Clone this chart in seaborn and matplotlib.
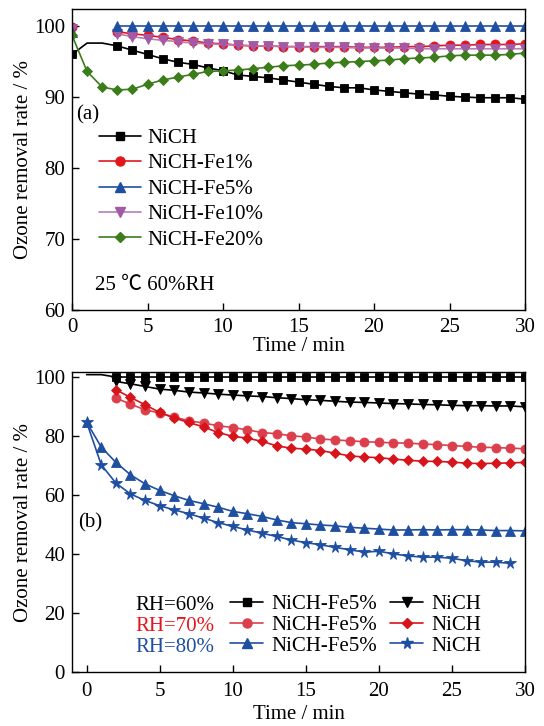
import matplotlib
matplotlib.use('Agg')
import matplotlib.pyplot as plt
import seaborn as sns
from matplotlib.lines import Line2D

# ---------------- data: panel (a) ----------------
t_a_full = list(range(0, 31))
t_a_late = list(range(3, 31))
nich_a = [96.0, 97.6, 97.6, 97.2, 96.6, 96.0, 95.4, 94.9, 94.6, 94.1, 93.7, 93.1, 92.9,
          92.7, 92.4, 92.1, 91.8, 91.5, 91.3, 91.3, 91.0, 90.8, 90.6, 90.4, 90.3, 90.1,
          90.0, 89.9, 89.9, 89.9, 89.7]
fe1_a0 = 99.9
fe1_a = [99.2, 98.9, 98.7, 98.4, 98.1, 97.9, 97.6, 97.5, 97.3, 97.2, 97.2, 97.1, 97.1, 97.1,
         97.1, 97.1, 97.0, 97.0, 97.0, 97.1, 97.1, 97.2, 97.3, 97.3, 97.4, 97.4, 97.4, 97.5]
fe5_a0 = 99.2
fe5_a = [100.0] * 28
fe10_a0 = 99.6
fe10_a = [98.9, 98.5, 98.2, 98.0, 97.8, 97.6, 97.5, 97.4, 97.3, 97.2, 97.2, 97.1, 97.1, 97.0,
          97.0, 97.0, 96.9, 96.9, 96.9, 96.9, 96.8, 96.8, 96.8, 96.8, 96.8, 96.8, 96.8, 96.8]
fe20_a = [98.7, 93.6, 91.4, 91.0, 91.1, 91.8, 92.4, 92.8, 93.2, 93.6, 93.7, 93.8, 94.0, 94.2,
          94.4, 94.5, 94.6, 94.8, 94.9, 95.0, 95.1, 95.2, 95.4, 95.5, 95.6, 95.8, 95.9, 95.9,
          95.9, 96.0, 96.2]
labels_a = ['NiCH', 'NiCH-Fe1%', 'NiCH-Fe5%', 'NiCH-Fe10%', 'NiCH-Fe20%']

# ---------------- data: panel (b) ----------------
t_b_top = [0, 1] + list(range(2, 31))
t_b = list(range(2, 31))
t_b80 = list(range(0, 31))
t_b80_star = list(range(0, 30))
fe5_rh60 = [100.8, 100.8] + [100.0] * 29
nich_rh60 = [98.5, 97.7, 96.8, 95.9, 95.5, 94.9, 94.6, 94.2, 93.9, 93.6, 93.4, 93.0, 92.7,
             92.3, 92.1, 91.8, 91.5, 91.4, 91.2, 91.0, 90.9, 90.7, 90.6, 90.4, 90.3, 90.3,
             90.2, 90.2, 89.9]
fe5_rh70 = [92.9, 90.8, 88.9, 87.8, 86.4, 85.2, 84.4, 83.5, 82.9, 82.1, 81.2, 80.8, 80.1,
            79.7, 79.0, 78.7, 78.4, 78.1, 77.9, 77.7, 77.6, 77.3, 77.1, 76.8, 76.5, 76.2,
            76.1, 75.9, 75.7]
nich_rh70 = [95.7, 93.1, 90.6, 88.0, 86.1, 84.6, 83.1, 81.2, 79.9, 79.3, 78.2, 76.7, 75.9,
             75.6, 75.1, 74.2, 73.3, 72.9, 72.7, 72.2, 71.8, 71.5, 71.4, 71.2, 70.8, 70.7,
             70.8, 70.9, 71.1]
fe5_rh80 = [84.7, 76.3, 71.1, 66.9, 63.8, 61.6, 59.8, 58.2, 57.1, 55.9, 54.5, 53.7, 52.8,
            51.6, 50.7, 50.3, 49.9, 49.6, 49.1, 48.8, 48.5, 48.2, 48.2, 48.3, 48.2, 48.3,
            48.3, 48.2, 48.0, 48.0, 47.9]
nich_rh80 = [84.7, 70.3, 64.1, 60.4, 58.2, 56.4, 55.0, 53.7, 52.2, 50.7, 49.4, 48.2, 47.1,
             46.0, 44.8, 43.9, 43.2, 42.3, 41.5, 40.7, 41.0, 40.1, 39.4, 39.0, 39.0, 38.6,
             37.8, 37.3, 37.3, 36.9]
rh_labels = ['RH=60%', 'RH=70%', 'RH=80%']

# ---------------- style ----------------
sns.set_theme(style='ticks')
plt.rcParams['font.family'] = ['Liberation Serif', 'Noto Sans CJK SC', 'DejaVu Sans']
for k in ['text.color', 'axes.labelcolor', 'xtick.color', 'ytick.color', 'axes.edgecolor']:
    plt.rcParams[k] = 'black'
FS = 15

BLACK = '#000000'
RED = '#E3161E'
BLUE = '#1F4FA0'
PURPLE = '#A35AA6'
GREEN = '#3C7D1B'
PINK = '#DC3F4C'
RED2 = '#D7141A'

W, H = 544, 726
fig = plt.figure(figsize=(W / 100, H / 100), dpi=100)


def rect(l, t, r, b):
    return [l / W, 1 - b / H, (r - l) / W, (b - t) / H]


ax1 = fig.add_axes(rect(72, 9, 525, 310))
ax2 = fig.add_axes(rect(72, 371.7, 525, 672.3))


def draw(ax, x, y, color, marker, ms, mevery=None, lcolor=None):
    sns.lineplot(x=x, y=y, ax=ax, color=lcolor or color, marker=marker, markersize=ms,
                 markeredgecolor=color, markerfacecolor=color, markeredgewidth=0.6,
                 linewidth=1.2, estimator=None, sort=False, markevery=mevery, legend=False)


def proxy(color, marker, ms, lcolor=None):
    return Line2D([], [], color=lcolor or color, marker=marker, markersize=ms,
                  markeredgecolor=color, markerfacecolor=color, linewidth=1.2)


# panel (a)
draw(ax1, t_a_full, nich_a, BLACK, 's', 6, mevery=[0] + list(range(3, 31)))
draw(ax1, t_a_late, fe1_a, RED, 'o', 6.5)
draw(ax1, [0], [fe1_a0], RED, 'o', 6.5)
draw(ax1, t_a_late, fe10_a, PURPLE, 'v', 7, lcolor='#B57EBB')
draw(ax1, [0], [fe10_a0], PURPLE, 'v', 7)
draw(ax1, t_a_late, fe5_a, BLUE, '^', 7)
draw(ax1, [0], [fe5_a0], BLUE, '^', 7)
draw(ax1, t_a_full, fe20_a, GREEN, 'D', 5.5)

ax1.set_xlim(0, 30)
ax1.set_ylim(60, 102.4)
ax1.set_xticks(range(0, 31, 5))
ax1.set_yticks(range(60, 101, 10))

h_a = [proxy(BLACK, 's', 6), proxy(RED, 'o', 6.5), proxy(BLUE, '^', 7),
       proxy(PURPLE, 'v', 7, lcolor='#B57EBB'), proxy(GREEN, 'D', 5.5)]
ax1.legend(h_a, labels_a, loc='upper left', bbox_to_anchor=(0.06, 0.603), frameon=False,
           handlelength=2.0, handletextpad=0.3, labelspacing=0.28, borderpad=0,
           borderaxespad=0, fontsize=FS)
ax1.text(0.009, 0.647, '(a)', transform=ax1.transAxes, fontsize=FS, ha='left', va='center')
ax1.text(0.051, 0.083, '25 ℃ 60%RH', transform=ax1.transAxes, fontsize=FS,
         ha='left', va='center')

# panel (b)
draw(ax2, t_b_top, fe5_rh60, BLACK, 's', 6, mevery=list(range(2, 31)))
draw(ax2, t_b, nich_rh60, BLACK, 'v', 7)
draw(ax2, t_b, fe5_rh70, PINK, 'o', 6.5)
draw(ax2, t_b, nich_rh70, RED2, 'D', 5.5)
draw(ax2, t_b80, fe5_rh80, BLUE, '^', 7)
draw(ax2, t_b80_star, nich_rh80, BLUE, '*', 8.5)

ax2.set_xlim(-1, 30)
ax2.set_ylim(0, 101.8)
ax2.set_xticks(range(0, 31, 5))
ax2.set_yticks(range(0, 101, 20))

h_b = [proxy(BLACK, 's', 6), proxy(PINK, 'o', 6.5), proxy(BLUE, '^', 7),
       proxy(BLACK, 'v', 7), proxy(RED2, 'D', 5.5), proxy(BLUE, '*', 8.5)]
l_b = ['NiCH-Fe5%'] * 3 + ['NiCH'] * 3
ax2.legend(h_b, l_b, ncol=2, loc='upper left', bbox_to_anchor=(0.349, 0.258), frameon=False,
           handlelength=1.6, handletextpad=0.4, columnspacing=0.6, labelspacing=0.05,
           borderpad=0, borderaxespad=0, fontsize=FS)
for lab, yy, c in zip(rh_labels, [0.222, 0.154, 0.083], [BLACK, RED, BLUE]):
    ax2.text(0.141, yy, lab, color=c, transform=ax2.transAxes, fontsize=FS,
             ha='left', va='center')
ax2.text(0.013, 0.497, '(b)', transform=ax2.transAxes, fontsize=FS, ha='left', va='center')

for ax in (ax1, ax2):
    ax.grid(False)
    for s in ax.spines.values():
        s.set_visible(True)
        s.set_linewidth(1.0)
        s.set_color('black')
    ax.tick_params(direction='in', length=5, width=1.0, top=False, right=False,
                   labelsize=FS)
    ax.tick_params(axis='y', pad=5)
    ax.set_ylabel('Ozone removal rate / %', fontsize=FS)
    ax.yaxis.set_label_coords(-0.086, 0.5)

ax1.tick_params(axis='x', pad=6)
ax1.set_xlabel('Time / min', fontsize=FS, labelpad=0)
ax2.tick_params(axis='x', pad=7)
ax2.set_xlabel('Time / min', fontsize=FS, labelpad=3)

fig.savefig('out.png', dpi=100)
